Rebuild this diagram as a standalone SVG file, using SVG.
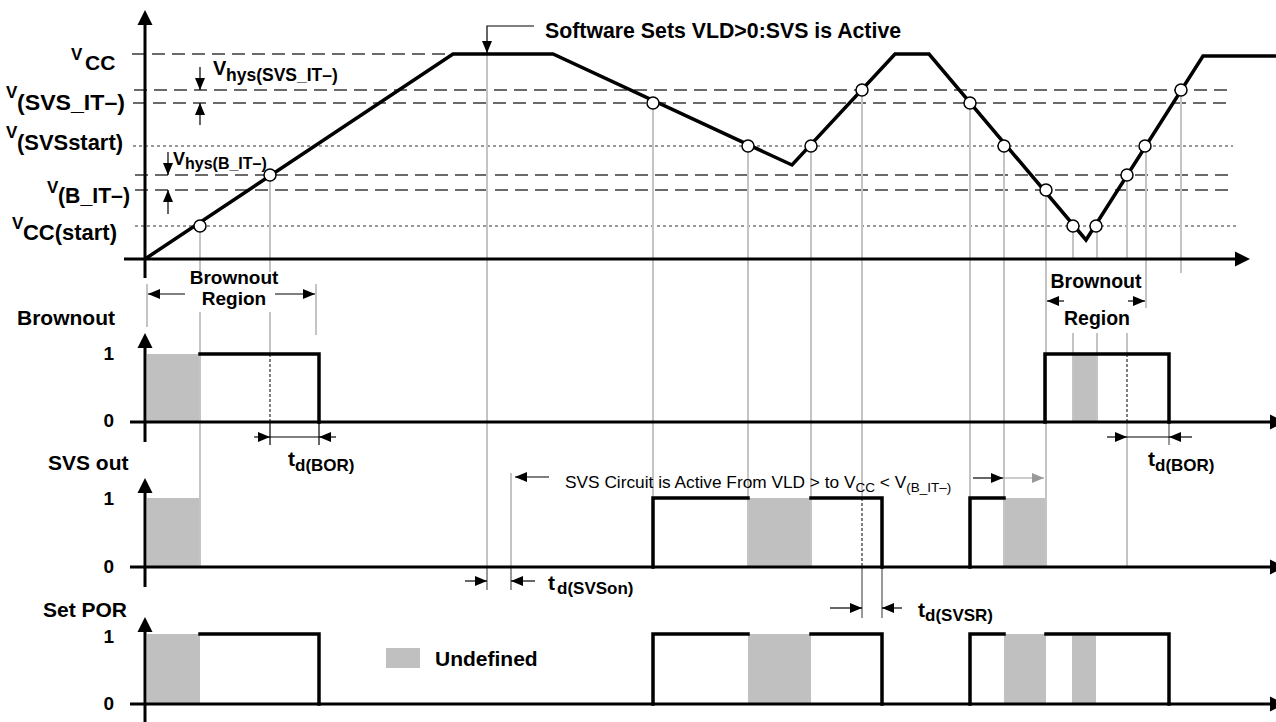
<svg xmlns="http://www.w3.org/2000/svg" width="1276" height="722" viewBox="0 0 1276 722">
<defs>
<style>
text{font-family:"Liberation Sans",Arial,Helvetica,sans-serif;font-weight:bold;fill:#000}
.reg{font-weight:normal}
.ax{stroke:#000;stroke-width:3;fill:none}
.tr{stroke:#000;stroke-width:3.5;fill:none;stroke-linejoin:miter}
.pl{stroke:#000;stroke-width:3.5;fill:none;stroke-linejoin:miter;stroke-linecap:square}
.gl{stroke:#c4c4c4;stroke-width:2;fill:none}
.dk{stroke:#555;stroke-width:1.2;fill:none}
.dd{stroke:#000;stroke-width:1;stroke-dasharray:3 2;fill:none}
.ld{stroke:#3a3a3a;stroke-width:1.5;stroke-dasharray:13 7;fill:none}
.dt{stroke:#333;stroke-width:1;stroke-dasharray:3 3;fill:none}
.th{stroke:#000;stroke-width:1.2;fill:none}
.tg{stroke:#999;stroke-width:1.2;fill:none}
.uf{fill:#c0c0c0;stroke:none}
.ci{fill:#fff;stroke:#000;stroke-width:1.5}
</style>
<marker id="ah" viewBox="0 0 12 10" refX="12" refY="5" markerWidth="12" markerHeight="10" markerUnits="userSpaceOnUse" orient="auto"><path d="M0,0 L12,5 L0,10 z" fill="#000"/></marker>
<marker id="ahg" viewBox="0 0 12 10" refX="12" refY="5" markerWidth="12" markerHeight="10" markerUnits="userSpaceOnUse" orient="auto"><path d="M0,0 L12,5 L0,10 z" fill="#999"/></marker>
</defs>
<rect width="1276" height="722" fill="#fff"/>

<!-- undefined fills -->
<g id="fills">
<rect class="uf" x="147" y="354" width="53" height="68"/>
<rect class="uf" x="1073" y="354" width="24" height="68"/>
<rect class="uf" x="147" y="498" width="53" height="69"/>
<rect class="uf" x="748" y="498" width="63" height="69"/>
<rect class="uf" x="1004" y="498" width="42" height="69"/>
<rect class="uf" x="147" y="634" width="53" height="70"/>
<rect class="uf" x="748" y="634" width="63" height="70"/>
<rect class="uf" x="1004" y="634" width="42" height="70"/>
<rect class="uf" x="1072" y="636" width="24" height="68"/>
</g>

<!-- reference levels -->
<g id="levels">
<line class="ld" x1="132" y1="54" x2="455" y2="54"/>
<line class="ld" x1="134" y1="90" x2="1230" y2="90"/>
<line class="ld" x1="133" y1="103" x2="1230" y2="103"/>
<line class="dt" x1="133" y1="146" x2="1233" y2="146"/>
<line class="ld" x1="135" y1="175" x2="1230" y2="175"/>
<line class="ld" x1="135" y1="190" x2="1230" y2="190"/>
<line class="dt" x1="135" y1="226" x2="1237" y2="226"/>
</g>

<!-- timing projection lines -->
<g id="connectors">
<line class="gl" x1="200" y1="226" x2="200" y2="272"/>
<line class="gl" x1="200" y1="312" x2="200" y2="567"/>
<line class="gl" x1="270" y1="175" x2="270" y2="272"/>
<line class="gl" x1="270" y1="312" x2="270" y2="354"/>
<line class="dd" x1="270" y1="354" x2="270" y2="422"/>
<line class="th" x1="270" y1="422" x2="270" y2="445"/>
<line class="th" x1="319" y1="422" x2="319" y2="445"/>
<line class="gl" x1="147" y1="284" x2="147" y2="327"/>
<line class="gl" x1="316" y1="284" x2="316" y2="335"/>
<line class="gl" x1="487" y1="54" x2="487" y2="567"/>
<line class="dk" x1="487" y1="567" x2="487" y2="590"/>
<line class="gl" x1="511" y1="473" x2="511" y2="567"/>
<line class="dk" x1="511" y1="567" x2="511" y2="590"/>
<line class="gl" x1="653" y1="103" x2="653" y2="498"/>
<line class="gl" x1="748" y1="146" x2="748" y2="567"/>
<line class="gl" x1="811" y1="146" x2="811" y2="567"/>
<line class="gl" x1="862" y1="90" x2="862" y2="498"/>
<line class="dd" x1="862" y1="498" x2="862" y2="567"/>
<line class="dk" x1="862" y1="567" x2="862" y2="618"/>
<line class="dk" x1="882" y1="567" x2="882" y2="618"/>
<line class="gl" x1="970" y1="103" x2="970" y2="498"/>
<line class="gl" x1="1004" y1="146" x2="1004" y2="567"/>
<line class="gl" x1="1046" y1="190" x2="1046" y2="567"/>
<line class="gl" x1="1073" y1="226" x2="1073" y2="259"/>
<line class="gl" x1="1073" y1="333" x2="1073" y2="422"/>
<line class="gl" x1="1097" y1="226" x2="1097" y2="259"/>
<line class="gl" x1="1097" y1="333" x2="1097" y2="422"/>
<line class="gl" x1="1127" y1="175" x2="1127" y2="259"/>
<line class="gl" x1="1127" y1="333" x2="1127" y2="354"/>
<line class="dd" x1="1127" y1="354" x2="1127" y2="422"/>
<line class="gl" x1="1127" y1="422" x2="1127" y2="567"/>
<line class="dk" x1="1169" y1="422" x2="1169" y2="445"/>
<line class="gl" x1="1146" y1="146" x2="1146" y2="308"/>
<line class="gl" x1="1181" y1="90" x2="1181" y2="273"/>

<!-- dimension arrows -->
<line class="th" x1="200" y1="67" x2="200" y2="90" marker-end="url(#ah)"/>
<line class="th" x1="200" y1="125" x2="200" y2="103" marker-end="url(#ah)"/>
<line class="th" x1="168" y1="152" x2="168" y2="175" marker-end="url(#ah)"/>
<line class="th" x1="168" y1="214" x2="168" y2="190" marker-end="url(#ah)"/>
<polyline class="th" points="534,26 487,26 487,53" marker-end="url(#ah)"/>
<line class="th" x1="185" y1="294" x2="148" y2="294" marker-end="url(#ah)"/>
<line class="th" x1="275" y1="294" x2="315" y2="294" marker-end="url(#ah)"/>
<line class="th" x1="1064" y1="301" x2="1047" y2="301" marker-end="url(#ah)"/>
<line class="th" x1="1128" y1="301" x2="1145" y2="301" marker-end="url(#ah)"/>
<line class="th" x1="254" y1="437" x2="270" y2="437" marker-end="url(#ah)"/>
<line class="th" x1="270" y1="437" x2="319" y2="437"/>
<line class="th" x1="336" y1="437" x2="319" y2="437" marker-end="url(#ah)"/>
<line class="th" x1="1107" y1="437" x2="1127" y2="437" marker-end="url(#ah)"/>
<line class="th" x1="1127" y1="437" x2="1169" y2="437"/>
<line class="th" x1="1192" y1="437" x2="1169" y2="437" marker-end="url(#ah)"/>
<line class="th" x1="465" y1="581" x2="487" y2="581" marker-end="url(#ah)"/>
<line class="th" x1="535" y1="581" x2="511" y2="581" marker-end="url(#ah)"/>
<line class="th" x1="549" y1="477" x2="515" y2="477" marker-end="url(#ah)"/>
<line class="th" x1="973" y1="478" x2="1003" y2="478" marker-end="url(#ah)"/>
<line class="tg" x1="1003" y1="478" x2="1044" y2="478" marker-end="url(#ahg)"/>
<line class="th" x1="830" y1="608" x2="862" y2="608" marker-end="url(#ah)"/>
<line class="th" x1="902" y1="608" x2="882" y2="608" marker-end="url(#ah)"/>
</g>

<!-- axes -->
<g id="axes">
<line class="ax" x1="145" y1="24" x2="145" y2="278"/>
<polygon points="145,10 152.5,25 137.5,25"/>
<line class="ax" x1="124" y1="259" x2="1236" y2="259"/>
<polygon points="1250,259 1235,251.5 1235,266.5"/>
<line class="ax" x1="145" y1="347" x2="145" y2="442"/>
<polygon points="145,333 152.5,348 137.5,348"/>
<line class="ax" x1="130" y1="422" x2="1272" y2="422"/>
<polygon points="1285,422 1270,414.5 1270,429.5"/>
<line class="ax" x1="145" y1="492" x2="145" y2="587"/>
<polygon points="145,478 152.5,493 137.5,493"/>
<line class="ax" x1="130" y1="567" x2="1272" y2="567"/>
<polygon points="1285,567 1270,559.5 1270,574.5"/>
<line class="ax" x1="145" y1="631" x2="145" y2="722"/>
<polygon points="145,617 152.5,632 137.5,632"/>
<line class="ax" x1="130" y1="704" x2="1272" y2="704"/>
<polygon points="1285,704 1270,696.5 1270,711.5"/>
</g>

<!-- supply voltage trace -->
<g id="vcc-trace">
<polyline class="tr" points="145,259 453,54 553,54 792,165 895,54 929,54 1086,240 1203,56 1276,56"/>
</g>

<!-- signal waveforms -->
<g id="brownout-wave">
<path class="pl" d="M200,354 H319 V422"/>
<path class="pl" d="M1045,422 V354 H1169 V422"/>
</g>
<g id="svsout-wave">
<path class="pl" d="M653,567 V498 H748"/>
<path class="pl" d="M811,498 H882 V567"/>
<path class="pl" d="M970,567 V498 H1004"/>
</g>
<g id="setpor-wave">
<path class="pl" d="M200,634 H319 V704"/>
<path class="pl" d="M653,704 V634 H748"/>
<path class="pl" d="M811,634 H882 V704"/>
<path class="pl" d="M970,704 V634 H1004"/>
<path class="pl" d="M1046,634 H1169 V704"/>
</g>

<!-- crossing points -->
<g id="crossings">
<circle class="ci" cx="200" cy="226" r="6"/>
<circle class="ci" cx="270" cy="175" r="6"/>
<circle class="ci" cx="653" cy="103" r="6"/>
<circle class="ci" cx="748" cy="146" r="6"/>
<circle class="ci" cx="811" cy="146" r="6"/>
<circle class="ci" cx="862" cy="90" r="6"/>
<circle class="ci" cx="970" cy="103" r="6"/>
<circle class="ci" cx="1004" cy="146" r="6"/>
<circle class="ci" cx="1046" cy="190" r="6"/>
<circle class="ci" cx="1073" cy="226" r="6"/>
<circle class="ci" cx="1096" cy="226" r="6"/>
<circle class="ci" cx="1127" cy="175" r="6"/>
<circle class="ci" cx="1145" cy="146" r="6"/>
<circle class="ci" cx="1181" cy="90" r="6"/>
</g>

<!-- level labels -->
<g id="level-labels">
<text x="71" y="60" font-size="17">V</text><text x="85" y="70" font-size="21">CC</text>
<text x="6" y="98" font-size="17">V</text><text x="17" y="110" font-size="22" textLength="108" lengthAdjust="spacingAndGlyphs">(SVS_IT–)</text>
<text x="6" y="138" font-size="17">V</text><text x="17" y="150" font-size="22" textLength="106" lengthAdjust="spacingAndGlyphs">(SVSstart)</text>
<text x="47" y="193" font-size="17">V</text><text x="58" y="203" font-size="22" textLength="72" lengthAdjust="spacingAndGlyphs">(B_IT–)</text>
<text x="12" y="229" font-size="17">V</text><text x="23" y="240" font-size="22" textLength="94" lengthAdjust="spacingAndGlyphs">CC(start)</text>
<text x="213" y="75" font-size="20">V</text><text x="226" y="81" font-size="17.5">hys(SVS_IT–)</text>
<text x="173" y="165" font-size="18">V</text><text x="185" y="169" font-size="16">hys(B_IT–)</text>
</g>

<g id="callout">
<text x="545" y="38" font-size="21.3">Software Sets VLD&gt;0:SVS is Active</text>
</g>

<g id="brownout-region-left">
<text x="234" y="284" font-size="19" text-anchor="middle">Brownout</text>
<text x="234" y="305" font-size="19" text-anchor="middle">Region</text>
</g>
<g id="brownout-region-right">
<text x="1096" y="288" font-size="19.5" text-anchor="middle">Brownout</text>
<text x="1097" y="325" font-size="19.5" text-anchor="middle">Region</text>
</g>

<g id="panel-labels">
<text x="17" y="325" font-size="21">Brownout</text>
<text x="48" y="470" font-size="21">SVS out</text>
<text x="43" y="617" font-size="21">Set POR</text>
<text x="114" y="360" font-size="19" text-anchor="end">1</text>
<text x="114" y="427" font-size="19" text-anchor="end">0</text>
<text x="114" y="505" font-size="19" text-anchor="end">1</text>
<text x="114" y="573" font-size="19" text-anchor="end">0</text>
<text x="114" y="643" font-size="19" text-anchor="end">1</text>
<text x="114" y="710" font-size="19" text-anchor="end">0</text>
</g>

<g id="delay-labels">
<text x="288" y="466" font-size="21">t</text><text x="295" y="471" font-size="17">d(BOR)</text>
<text x="1148" y="466" font-size="21">t</text><text x="1155" y="471" font-size="17">d(BOR)</text>
<text x="548" y="590" font-size="21">t</text><text x="557" y="594" font-size="17">d(SVSon)</text>
<text x="918" y="617" font-size="21">t</text><text x="925" y="621" font-size="17">d(SVSR)</text>
</g>

<g id="svs-active-note">
<text class="reg" font-size="17.3"><tspan x="565" y="488">SVS Circuit is Active From VLD &gt; to V</tspan><tspan font-size="13.5" y="492">CC</tspan><tspan y="488"> &lt; V</tspan><tspan font-size="13.5" y="492">(B_IT–)</tspan></text>
</g>

<g id="legend">
<rect class="uf" x="386" y="648" width="34" height="20"/>
<text x="435" y="666" font-size="21">Undefined</text>
</g>
</svg>
